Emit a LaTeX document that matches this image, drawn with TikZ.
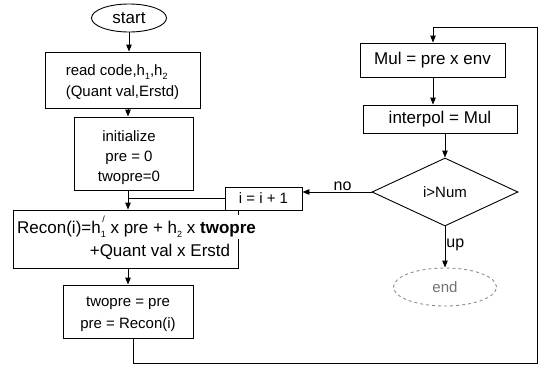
\documentclass[tikz,border=0pt]{standalone}
\usepackage{fontspec}
\setmainfont{Liberation Sans}
\usetikzlibrary{shapes.geometric,arrows.meta}

% h' with subscript, as used in the reconstruction formula
\newcommand{\hcoef}[1]{h\rlap{\raisebox{0.62em}{\fontsize{9}{9}\selectfont\,/}}\raisebox{-0.28em}{\fontsize{9}{9}\selectfont #1}}
\newcommand{\hsub}[1]{h\raisebox{-0.28em}{\fontsize{9}{9}\selectfont #1}}

\begin{document}
\begin{tikzpicture}[x=1pt,y=-1pt,
  box/.style={draw, line width=0.9pt, rectangle, inner sep=0pt},
  oval/.style={draw, line width=0.9pt, ellipse, inner sep=0pt},
  flow/.style={draw, line width=0.9pt, -{Triangle[length=7pt,width=5.5pt]}},
  link/.style={draw, line width=0.9pt},
  small/.style={font=\fontsize{15}{21}\selectfont, align=center},
  large/.style={font=\fontsize{17}{22}\selectfont, align=center},
  lbl/.style={font=\fontsize{16}{16}\selectfont, inner sep=1pt}]
\useasboundingbox (0,0) rectangle (546,367);

% left column
\node[oval, large, minimum width=75pt, minimum height=28pt] (start) at (129,18) {start};
\node[box, minimum width=155pt, minimum height=56pt] (read) at (122.5,80) {};
\node[small, align=left] (readtxt) at (122.5,82)
  {read code,\hsub{1},\hsub{2}\\(Quant val,Erstd)};
\node[box, minimum width=119pt, minimum height=73pt] (init) at (133.5,153.5) {};
\node[small] (inittxt) at (129,157.5)
  {initialize\\[-1pt]pre = 0\\[-1pt]twopre=0};
\node[box, minimum width=225pt, minimum height=58pt] (recon) at (125.5,239) {};
\node[large, anchor=west, fill=white, inner sep=1pt] (reconA) at (16,227)
  {Recon(i)=\hcoef{1} x pre + \hsub{2} x \textbf{twopre}};
\node[large, inner sep=1pt] (reconB) at (160,252) {+Quant val x Erstd};
\node[box, minimum width=130pt, minimum height=53pt] (upd) at (128,311.5) {};
\node[small] (updtxt) at (128,314)
  {twopre = pre\\[1pt]pre = Recon(i)};
\node[box, small, minimum width=77pt, minimum height=23pt] (inc) at (263.5,198.5) {i = i + 1};

% right column
\node[box, large, minimum width=145pt, minimum height=34pt] (mul) at (432.5,60) {Mul = pre x env};
\node[box, large, minimum width=154pt, minimum height=28pt] (interp) at (440,119) {interpol = Mul};
\node[draw, line width=0.9pt, diamond, small, minimum width=146pt, minimum height=68pt,
  inner sep=0pt] (test) at (445,192) {i>Num};
\node[oval, dashed, draw=black!45, text=black!55, small, minimum width=103pt,
  minimum height=38pt] (end) at (445,287) {end};

% spine of the left column and the loop corners
\coordinate (spine) at (128,0);
\coordinate (back) at (133,0);
\coordinate (loopA) at (133,363);
\coordinate (loopB) at (537,363);
\coordinate (loopC) at (537,27);
\coordinate (loopD) at (433,27);

\draw[flow] (start) -- (start |- read.north);
\draw[flow] (read.south -| spine) -- (init.north -| spine);
\draw[flow] (init.south -| spine) -- (recon.north -| spine);
\draw[link] (inc.west) -- (inc.west -| spine);
\draw[flow] (recon.south -| spine) -- (upd.north -| spine);

% loop back to the right column
\draw[flow] (upd.south -| back) -- (loopA) -- (loopB) -- (loopC) -- (loopD) -- (mul.north -| loopD);

\draw[flow] (mul.south -| loopD) -- (interp.north -| loopD);
\draw[flow] (interp.south -| test.north) -- (test.north);
\draw[flow] (test.west) -- (test.west -| inc.east)
  node[lbl, pos=0.42, above] (no) {no};
\draw[flow] (test.south) -- (test.south |- end.north)
  node[lbl, pos=0.45, right] (up) {up};
\end{tikzpicture}
\end{document}
